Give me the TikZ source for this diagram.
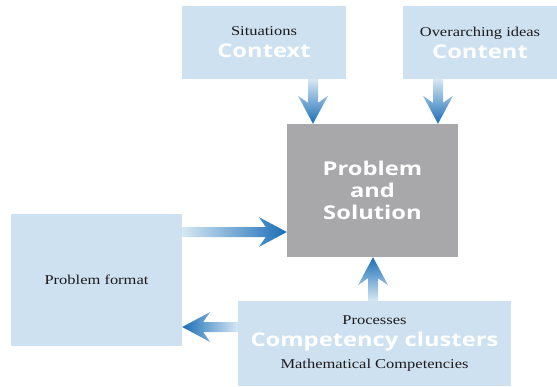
\documentclass[tikz,border=0pt]{standalone}
\usepackage{fontspec}
\setmainfont{Liberation Serif}[FakeStretch=1.22]
\newfontfamily\headfont{Open Sans}[FakeStretch=1.25]
\usetikzlibrary{positioning,calc}

\definecolor{panelblue}{RGB}{205,225,240}
\definecolor{panelgray}{RGB}{168,168,171}
\definecolor{flowdeep}{RGB}{26,110,182}
\definecolor{flowlite}{RGB}{214,231,244}
\definecolor{inkdark}{RGB}{30,26,28}

\newcommand{\smalltxt}{\fontsize{13.5}{22}\selectfont\color{inkdark}}
\newcommand{\bigtxt}{\headfont\bfseries\fontsize{19}{22}\selectfont\color{white}}

% vertical and horizontal flow arrows, #1 shading, #2 tail, #3 tip
\newcommand{\flowv}[3]{%
  \shade[#1] let \p1=#2, \p2=#3, \n1={sign(\y2-\y1)} in
    (\x1-5pt,\y1) -- (\x1-5pt,{\y2-(\n1)*21pt}) -- (\x1-15pt,{\y2-(\n1)*28pt})
    -- (\x1,\y2) -- (\x1+15pt,{\y2-(\n1)*28pt}) -- (\x1+5pt,{\y2-(\n1)*21pt})
    -- (\x1+5pt,\y1) -- cycle;}
\newcommand{\flowh}[3]{%
  \shade[#1] let \p1=#2, \p2=#3, \n1={sign(\x2-\x1)} in
    (\x1,\y1-5pt) -- ({\x2-(\n1)*21pt},\y1-5pt) -- ({\x2-(\n1)*28pt},\y1-15pt)
    -- (\x2,\y1) -- ({\x2-(\n1)*28pt},\y1+15pt) -- ({\x2-(\n1)*21pt},\y1+5pt)
    -- (\x1,\y1+5pt) -- cycle;}

\begin{document}
\begin{tikzpicture}[x=1pt, y=-1pt,
  panel/.style={fill=panelblue, draw=none, inner sep=0pt, align=center,
    font=\fontsize{13.5}{22}\selectfont},
  core/.style={panel, fill=panelgray}]
  \useasboundingbox (0,0) rectangle (557,386);

  \node[panel, minimum width=164pt, minimum height=73pt] (ctx) at (264,42.5)
    {\smalltxt Situations\\ \bigtxt Context};
  \node[panel, minimum width=154pt, minimum height=73pt] (cnt) at (480,42.5)
    {\smalltxt Overarching ideas\\ \bigtxt Content};
  \node[core, minimum width=171pt, minimum height=133pt] (ps) at (372.5,190.5)
    {\bigtxt Problem\\ \bigtxt and\\ \bigtxt Solution};
  \node[panel, minimum width=171pt, minimum height=132pt] (fmt) at (96.5,280)
    {\smalltxt Problem format};
  \node[panel, minimum width=273pt, minimum height=85pt] (cmp) at (374.5,343.5)
    {\smalltxt Processes\\ \bigtxt Competency clusters\\ \smalltxt Mathematical Competencies};

  % arrows into and out of the problem
  \flowv{top color=flowlite, bottom color=flowdeep}{(ctx.south -| 313,0)}{(ps.north -| 313,0)}
  \flowv{top color=flowlite, bottom color=flowdeep}{(cnt.south -| 438,0)}{(ps.north -| 438,0)}
  \flowv{bottom color=flowlite, top color=flowdeep}{(cmp.north -| 373,0)}{(ps.south -| 373,0)}
  \flowh{left color=flowlite, right color=flowdeep}{(fmt.east |- 0,232)}{(ps.west |- 0,232)}
  \flowh{right color=flowlite, left color=flowdeep}{(cmp.west |- 0,327)}{(fmt.east |- 0,327)}
\end{tikzpicture}
\end{document}
